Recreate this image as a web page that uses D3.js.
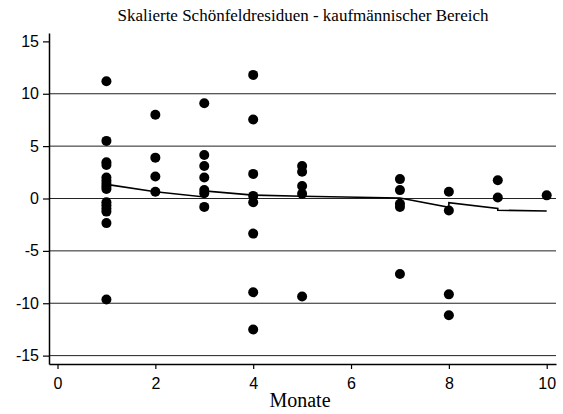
<!DOCTYPE html>
<html>
<head>
<meta charset="utf-8">
<script src="https://cdn.jsdelivr.net/npm/d3@7"></script>
<style>
  html, body { margin: 0; padding: 0; background: #fff; }
  svg { display: block; }
</style>
</head>
<body>
<svg id="chart" width="563" height="414"></svg>
<script>
// Scaled Schoenfeld residuals by event month, with the smoothed trend
const titleText = "Skalierte Schönfeldresiduen - kaufmännischer Bereich";
const xLabel = "Monate";

const months = [1, 2, 3, 4, 5, 7, 8, 9, 10];
const resMonth1 = [11.2, 5.5, 3.45, 3.2, 2.0, 1.7, 1.4, 1.15, 0.9, -0.35, -0.65, -0.95, -1.25, -2.35, -9.65];
const resMonth2 = [8.0, 3.9, 2.1, 0.65];
const resMonth3 = [9.1, 4.15, 3.1, 2.0, 0.8, 0.5, -0.8];
const resMonth4 = [11.8, 7.55, 2.35, 0.25, -0.35, -3.35, -8.95, -12.5];
const resMonth5 = [3.1, 2.55, 1.2, 0.45, -9.35];
const resMonth7 = [1.85, 0.8, -0.5, -0.8, -7.2];
const resMonth8 = [0.65, -1.15, -9.15, -11.15];
const resMonth9 = [1.75, 0.1];
const resMonth10 = [0.3];
const residualsByMonth = [resMonth1, resMonth2, resMonth3, resMonth4, resMonth5,
                          resMonth7, resMonth8, resMonth9, resMonth10];

const smoothMonth = [1, 2, 3, 3, 4, 5, 7, 8, 8, 9, 9, 10];
const smoothValue = [1.35, 0.65, 0.15, 0.72, 0.32, 0.22, 0.05, -0.85, -0.4, -0.95, -1.12, -1.2];

const xTicks = [0, 2, 4, 6, 8, 10];
const yTicks = [-15, -10, -5, 0, 5, 10, 15];
const gridValues = [-15, -10, -5, 0, 5, 10];

const svg = d3.select("#chart");
const plotLeft = 49, plotRight = 556, plotTop = 33, plotBottom = 364;

const x = d3.scaleLinear().domain([-0.174, 10.19]).range([plotLeft, plotRight]);
const y = d3.scaleLinear().domain([-15.8, 15.8]).range([plotBottom, plotTop]);

// horizontal reference lines
svg.append("g").selectAll("line").data(gridValues).join("line")
  .attr("x1", plotLeft).attr("x2", plotRight)
  .attr("y1", d => y(d)).attr("y2", d => y(d))
  .attr("stroke", "#222").attr("stroke-width", 1);

// axes
const xAxis = svg.append("g").attr("transform", `translate(0,${plotBottom})`)
  .call(d3.axisBottom(x).tickValues(xTicks).tickFormat(d3.format("d"))
    .tickSize(5).tickSizeOuter(0).tickPadding(9));
const yAxis = svg.append("g").attr("transform", `translate(${plotLeft},0)`)
  .call(d3.axisLeft(y).tickValues(yTicks).tickFormat(d => d < 0 ? "-" + Math.abs(d) : String(d))
    .tickSize(6).tickSizeOuter(0).tickPadding(4));

[xAxis, yAxis].forEach(g => {
  g.select(".domain").attr("stroke", "#000").attr("stroke-width", 1.5);
  g.selectAll(".tick line").attr("stroke", "#000").attr("stroke-width", 1.2);
  g.selectAll(".tick text")
    .attr("font-family", "'Liberation Sans', Arial, Helvetica, sans-serif")
    .attr("font-size", 16).attr("fill", "#000");
});

// residual points
const points = [];
months.forEach((m, i) => residualsByMonth[i].forEach(v => points.push({ m, v })));
svg.append("g").selectAll("circle").data(points).join("circle")
  .attr("cx", d => x(d.m)).attr("cy", d => y(d.v)).attr("r", 5)
  .attr("fill", "#000");

// smoothed trend
const trend = smoothMonth.map((m, i) => [m, smoothValue[i]]);
svg.append("path").datum(trend)
  .attr("d", d3.line().x(d => x(d[0])).y(d => y(d[1])))
  .attr("fill", "none").attr("stroke", "#000").attr("stroke-width", 1.6);

// title and axis label
svg.append("text").attr("x", 303).attr("y", 21).attr("text-anchor", "middle")
  .attr("font-family", "'Liberation Serif', 'Times New Roman', serif")
  .attr("font-size", 17).attr("fill", "#000").text(titleText);
svg.append("text").attr("x", 300).attr("y", 407).attr("text-anchor", "middle")
  .attr("font-family", "'Liberation Serif', 'Times New Roman', serif")
  .attr("font-size", 20).attr("fill", "#000").text(xLabel);
</script>
</body>
</html>
